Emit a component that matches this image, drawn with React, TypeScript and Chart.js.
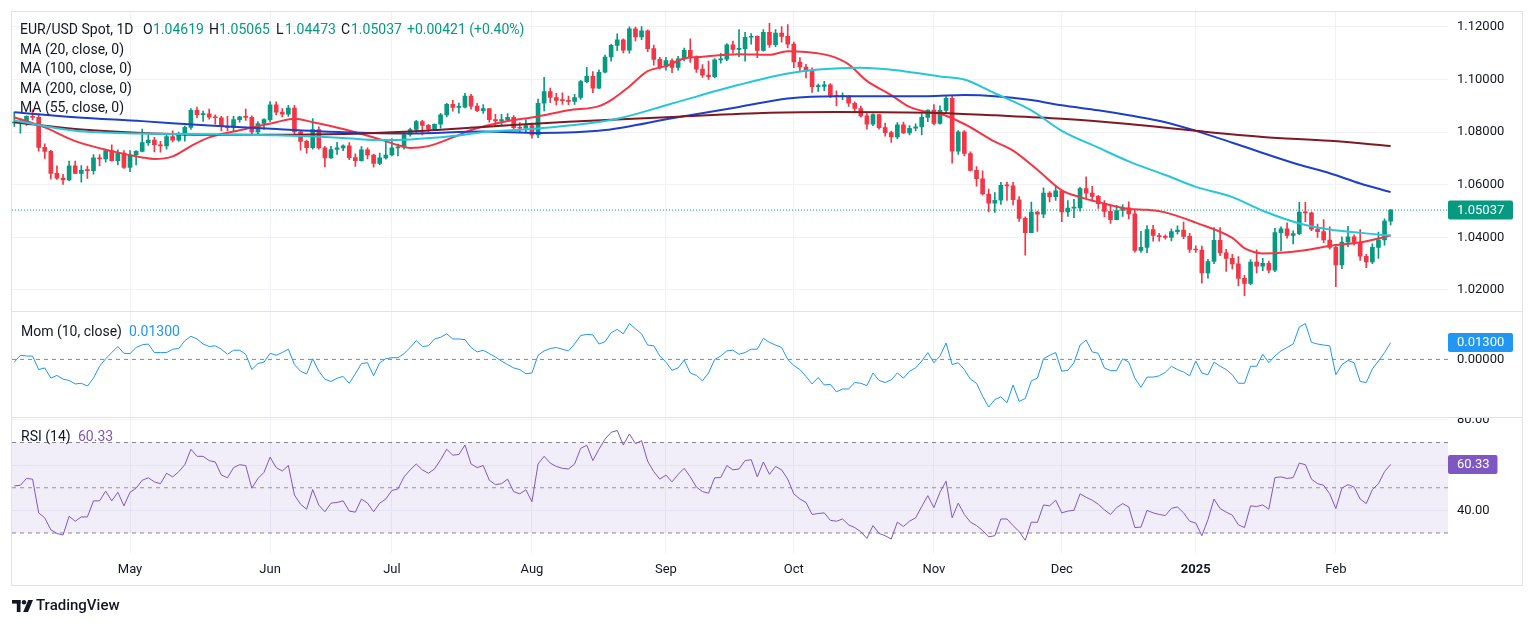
import React, { useEffect, useRef } from "react";
import { Chart, registerables } from "chart.js";

Chart.register(...registerables);

// ---------- data ----------
// bar index 0 = 4 Apr 2024 ... 226 = 14 Feb 2025
const monthTickIdx = [19, 42, 62, 85, 107, 128, 151, 172, 194, 217];
const monthTickLabels = ["May", "Jun", "Jul", "Aug", "Sep", "Oct", "Nov", "Dec", "2025", "Feb"];

const openData = [
  1.0835, 1.0837, 1.0838, 1.0860, 1.0856, 1.0742, 1.0727, 1.0643, 1.0625, 1.0618,
  1.0672, 1.0643, 1.0655, 1.0654, 1.0702, 1.0698, 1.0730, 1.0692, 1.0720, 1.0666,
  1.0714, 1.0727, 1.0760, 1.0770, 1.0752, 1.0748, 1.0783, 1.0770, 1.0790, 1.0818,
  1.0883, 1.0867, 1.0870, 1.0857, 1.0855, 1.0822, 1.0817, 1.0848, 1.0858, 1.0856,
  1.0801, 1.0833, 1.0848, 1.0904, 1.0876, 1.0868, 1.0892, 1.0801, 1.0765, 1.0741,
  1.0810, 1.0740, 1.0702, 1.0734, 1.0740, 1.0748, 1.0703, 1.0692, 1.0733, 1.0713,
  1.0681, 1.0702, 1.0713, 1.0740, 1.0743, 1.0791, 1.0810, 1.0840, 1.0826, 1.0812,
  1.0830, 1.0866, 1.0906, 1.0894, 1.0895, 1.0937, 1.0899, 1.0882, 1.0890, 1.0848,
  1.0843, 1.0848, 1.0856, 1.0817, 1.0815, 1.0825, 1.0790, 1.0910, 1.0954, 1.0932,
  1.0921, 1.0920, 1.0917, 1.0932, 1.0992, 1.1012, 1.0967, 1.1028, 1.1086, 1.1130,
  1.1151, 1.1112, 1.1193, 1.1162, 1.1185, 1.1118, 1.1077, 1.1048, 1.1072, 1.1046,
  1.1079, 1.1111, 1.1083, 1.1040, 1.1017, 1.1011, 1.1075, 1.1078, 1.1132, 1.1115,
  1.1118, 1.1161, 1.1164, 1.1111, 1.1180, 1.1133, 1.1177, 1.1164, 1.1135, 1.1067,
  1.1048, 1.1032, 1.0973, 1.0974, 1.0980, 1.0940, 1.0935, 1.0937, 1.0910, 1.0890,
  1.0862, 1.0830, 1.0867, 1.0817, 1.0798, 1.0782, 1.0828, 1.0797, 1.0815, 1.0820,
  1.0856, 1.0884, 1.0833, 1.0883, 1.0929, 1.0728, 1.0801, 1.0719, 1.0655, 1.0623,
  1.0565, 1.0530, 1.0541, 1.0598, 1.0596, 1.0543, 1.0472, 1.0418, 1.0496, 1.0488,
  1.0568, 1.0555, 1.0577, 1.0497, 1.0511, 1.0512, 1.0585, 1.0568, 1.0556, 1.0528,
  1.0499, 1.0467, 1.0502, 1.0512, 1.0489, 1.0350, 1.0362, 1.0430, 1.0407, 1.0403,
  1.0400, 1.0422, 1.0428, 1.0404, 1.0354, 1.0352, 1.0265, 1.0308, 1.0389, 1.0341,
  1.0320, 1.0299, 1.0244, 1.0225, 1.0306, 1.0290, 1.0301, 1.0275, 1.0418, 1.0432,
  1.0407, 1.0414, 1.0496, 1.0493, 1.0431, 1.0422, 1.0390, 1.0362, 1.0295, 1.0382,
  1.0402, 1.0381, 1.0328, 1.0307, 1.0362, 1.0390, 1.04619,
];

const highData = [
  1.0876, 1.0852, 1.0862, 1.0885, 1.0869, 1.0756, 1.0731, 1.0672, 1.0640, 1.0690,
  1.0690, 1.0673, 1.0671, 1.0715, 1.0715, 1.0734, 1.0752, 1.0733, 1.0730, 1.0730,
  1.0730, 1.0812, 1.0790, 1.0780, 1.0765, 1.0790, 1.0805, 1.0800, 1.0823, 1.0890,
  1.0895, 1.0880, 1.0888, 1.0866, 1.0860, 1.0860, 1.0860, 1.0860, 1.0888, 1.0862,
  1.0840, 1.0852, 1.0916, 1.0915, 1.0890, 1.0902, 1.0902, 1.0802, 1.0770, 1.0852,
  1.0820, 1.0745, 1.0746, 1.0761, 1.0752, 1.0760, 1.0718, 1.0745, 1.0740, 1.0717,
  1.0720, 1.0762, 1.0776, 1.0755, 1.0800, 1.0816, 1.0845, 1.0845, 1.0830, 1.0832,
  1.0872, 1.0910, 1.0921, 1.0911, 1.0948, 1.0944, 1.0910, 1.0905, 1.0890, 1.0868,
  1.0868, 1.0871, 1.0863, 1.0836, 1.0848, 1.0835, 1.0926, 1.1009, 1.0968, 1.0948,
  1.0950, 1.0937, 1.0944, 1.0997, 1.1047, 1.1030, 1.1037, 1.1093, 1.1134, 1.1174,
  1.1155, 1.1201, 1.1200, 1.1202, 1.1189, 1.1131, 1.1085, 1.1085, 1.1079, 1.1088,
  1.1120, 1.1155, 1.1090, 1.1057, 1.1070, 1.1080, 1.1100, 1.1137, 1.1146, 1.1190,
  1.1180, 1.1175, 1.1166, 1.1190, 1.1214, 1.1190, 1.1202, 1.1209, 1.1143, 1.1084,
  1.1058, 1.1045, 1.0983, 1.0993, 1.0985, 1.0957, 1.0950, 1.0940, 1.0915, 1.0899,
  1.0871, 1.0870, 1.0867, 1.0835, 1.0804, 1.0836, 1.0838, 1.0825, 1.0832, 1.0870,
  1.0885, 1.0905, 1.0900, 1.0937, 1.0937, 1.0806, 1.0806, 1.0725, 1.0669, 1.0653,
  1.0584, 1.0570, 1.0609, 1.0610, 1.0609, 1.0555, 1.0478, 1.0534, 1.0500, 1.0588,
  1.0574, 1.0596, 1.0577, 1.0540, 1.0545, 1.0590, 1.0630, 1.0594, 1.0560, 1.0540,
  1.0518, 1.0522, 1.0525, 1.0535, 1.0504, 1.0423, 1.0445, 1.0446, 1.0415, 1.0410,
  1.0432, 1.0444, 1.0458, 1.0415, 1.0368, 1.0367, 1.0316, 1.0437, 1.0437, 1.0354,
  1.0335, 1.0327, 1.0256, 1.0315, 1.0353, 1.0320, 1.0310, 1.0434, 1.0440, 1.0455,
  1.0425, 1.0533, 1.0533, 1.0497, 1.0450, 1.0468, 1.0440, 1.0370, 1.0402, 1.0442,
  1.0410, 1.0430, 1.0335, 1.0375, 1.0420, 1.0470, 1.05065,
];

const lowData = [
  1.0822, 1.0796, 1.0826, 1.0847, 1.0728, 1.0700, 1.0622, 1.0620, 1.0601, 1.0615,
  1.0642, 1.0610, 1.0624, 1.0640, 1.0672, 1.0686, 1.0690, 1.0675, 1.0662, 1.0650,
  1.0675, 1.0725, 1.0750, 1.0725, 1.0724, 1.0735, 1.0763, 1.0765, 1.0766, 1.0810,
  1.0854, 1.0841, 1.0849, 1.0830, 1.0805, 1.0805, 1.0805, 1.0838, 1.0845, 1.0789,
  1.0790, 1.0810, 1.0840, 1.0866, 1.0858, 1.0860, 1.0790, 1.0732, 1.0720, 1.0735,
  1.0735, 1.0668, 1.0700, 1.0715, 1.0730, 1.0695, 1.0670, 1.0690, 1.0698, 1.0667,
  1.0676, 1.0697, 1.0710, 1.0710, 1.0735, 1.0785, 1.0795, 1.0790, 1.0800, 1.0807,
  1.0815, 1.0858, 1.0880, 1.0872, 1.0892, 1.0887, 1.0878, 1.0871, 1.0838, 1.0825,
  1.0825, 1.0840, 1.0812, 1.0800, 1.0801, 1.0777, 1.0779, 1.0881, 1.0912, 1.0904,
  1.0906, 1.0905, 1.0906, 1.0925, 1.0987, 1.0950, 1.0965, 1.1025, 1.1070, 1.1110,
  1.1101, 1.1100, 1.1147, 1.1152, 1.1106, 1.1055, 1.1041, 1.1036, 1.1026, 1.1036,
  1.1071, 1.1065, 1.1027, 1.1008, 1.1001, 1.1006, 1.1062, 1.1072, 1.1100, 1.1087,
  1.1070, 1.1135, 1.1083, 1.1108, 1.1122, 1.1125, 1.1142, 1.1120, 1.1045, 1.1032,
  1.1006, 1.0951, 1.0955, 1.0958, 1.0931, 1.0900, 1.0924, 1.0898, 1.0880, 1.0858,
  1.0811, 1.0825, 1.0811, 1.0785, 1.0761, 1.0775, 1.0795, 1.0790, 1.0805, 1.0790,
  1.0840, 1.0828, 1.0830, 1.0870, 1.0682, 1.0715, 1.0710, 1.0653, 1.0595, 1.0560,
  1.0497, 1.0495, 1.0525, 1.0540, 1.0523, 1.0461, 1.0332, 1.0418, 1.0423, 1.0475,
  1.0535, 1.0540, 1.0460, 1.0480, 1.0475, 1.0500, 1.0550, 1.0538, 1.0510, 1.0478,
  1.0453, 1.0466, 1.0480, 1.0470, 1.0344, 1.0343, 1.0342, 1.0385, 1.0385, 1.0393,
  1.0386, 1.0412, 1.0395, 1.0343, 1.0343, 1.0226, 1.0245, 1.0300, 1.0330, 1.0270,
  1.0280, 1.0215, 1.0178, 1.0220, 1.0265, 1.0273, 1.0266, 1.0269, 1.0348, 1.0397,
  1.0375, 1.0410, 1.0460, 1.0425, 1.0400, 1.0380, 1.0355, 1.0212, 1.0281, 1.0365,
  1.0370, 1.0312, 1.0285, 1.0300, 1.0320, 1.0370, 1.04473,
];

const closeData = [
  1.0837, 1.0838, 1.0860, 1.0856, 1.0742, 1.0727, 1.0643, 1.0625, 1.0618, 1.0672,
  1.0643, 1.0655, 1.0654, 1.0702, 1.0698, 1.0730, 1.0692, 1.0720, 1.0666, 1.0714,
  1.0727, 1.0760, 1.0770, 1.0752, 1.0748, 1.0783, 1.0770, 1.0790, 1.0818, 1.0883,
  1.0867, 1.0870, 1.0857, 1.0855, 1.0822, 1.0817, 1.0848, 1.0858, 1.0856, 1.0801,
  1.0833, 1.0848, 1.0904, 1.0876, 1.0868, 1.0892, 1.0801, 1.0765, 1.0741, 1.0810,
  1.0740, 1.0702, 1.0734, 1.0740, 1.0748, 1.0703, 1.0692, 1.0733, 1.0713, 1.0681,
  1.0702, 1.0713, 1.0740, 1.0743, 1.0791, 1.0810, 1.0840, 1.0826, 1.0812, 1.0830,
  1.0866, 1.0906, 1.0894, 1.0895, 1.0937, 1.0899, 1.0882, 1.0890, 1.0848, 1.0843,
  1.0848, 1.0856, 1.0817, 1.0815, 1.0825, 1.0790, 1.0910, 1.0954, 1.0932, 1.0921,
  1.0920, 1.0917, 1.0932, 1.0992, 1.1012, 1.0967, 1.1028, 1.1086, 1.1130, 1.1151,
  1.1112, 1.1193, 1.1162, 1.1185, 1.1118, 1.1077, 1.1048, 1.1072, 1.1046, 1.1079,
  1.1111, 1.1083, 1.1040, 1.1017, 1.1011, 1.1075, 1.1078, 1.1132, 1.1115, 1.1118,
  1.1161, 1.1164, 1.1111, 1.1180, 1.1133, 1.1177, 1.1164, 1.1135, 1.1067, 1.1048,
  1.1032, 1.0973, 1.0974, 1.0980, 1.0940, 1.0935, 1.0937, 1.0910, 1.0890, 1.0862,
  1.0830, 1.0867, 1.0817, 1.0798, 1.0782, 1.0828, 1.0797, 1.0815, 1.0820, 1.0856,
  1.0884, 1.0833, 1.0883, 1.0929, 1.0728, 1.0801, 1.0719, 1.0655, 1.0623, 1.0565,
  1.0530, 1.0541, 1.0598, 1.0596, 1.0543, 1.0472, 1.0418, 1.0496, 1.0488, 1.0568,
  1.0555, 1.0577, 1.0497, 1.0511, 1.0512, 1.0585, 1.0568, 1.0556, 1.0528, 1.0499,
  1.0467, 1.0502, 1.0512, 1.0489, 1.0350, 1.0362, 1.0430, 1.0407, 1.0403, 1.0400,
  1.0422, 1.0428, 1.0404, 1.0354, 1.0352, 1.0265, 1.0308, 1.0389, 1.0341, 1.0320,
  1.0299, 1.0244, 1.0225, 1.0306, 1.0290, 1.0301, 1.0275, 1.0418, 1.0432, 1.0407,
  1.0414, 1.0496, 1.0493, 1.0431, 1.0422, 1.0390, 1.0362, 1.0295, 1.0382, 1.0402,
  1.0381, 1.0328, 1.0307, 1.0362, 1.0390, 1.0462, 1.05037,
];

// moving averages: [bar index, value] points
const ma20Points = [
  [0, 1.0857], [5, 1.0818], [10, 1.0766], [16, 1.0728], [21, 1.0704], [23, 1.0698], [26, 1.0708],
  [29, 1.0747], [32, 1.078], [38, 1.0812], [43, 1.0838], [46, 1.0851], [49, 1.0838], [54, 1.0812],
  [60, 1.0773], [63, 1.0751], [65, 1.074], [68, 1.0747], [72, 1.078], [75, 1.0808], [80, 1.0838],
  [86, 1.086], [91, 1.0883], [96, 1.0899], [98, 1.0922], [101, 1.0974], [104, 1.1032], [107, 1.1051],
  [110, 1.108], [113, 1.1087], [119, 1.1096], [124, 1.1094], [127, 1.1108], [130, 1.1105],
  [134, 1.109], [137, 1.1058], [140, 1.0995], [144, 1.0941], [147, 1.0896], [150, 1.0876],
  [152, 1.087], [156, 1.0831], [161, 1.0764], [164, 1.073], [168, 1.0657], [172, 1.0579],
  [175, 1.0553], [178, 1.0534], [183, 1.0508], [186, 1.0505], [189, 1.0495], [194, 1.0456],
  [200, 1.0398], [202, 1.0359], [205, 1.0339], [208, 1.0341], [213, 1.0355], [216, 1.0368],
  [221, 1.0381], [226, 1.0407],
];
const ma55Points = [
  [0, 1.0844], [10, 1.0805], [21, 1.0795], [32, 1.0792], [43, 1.0788], [54, 1.0778], [60, 1.077],
  [65, 1.0772], [72, 1.0785], [77, 1.08], [85, 1.0812], [91, 1.0825], [99, 1.0851], [108, 1.0909],
  [119, 1.098], [127, 1.1023], [132, 1.1038], [139, 1.1045], [146, 1.1032], [152, 1.1012],
  [156, 1.1], [161, 1.0948], [167, 1.0883], [172, 1.0805], [178, 1.0741], [183, 1.0689],
  [189, 1.0637], [194, 1.0592], [200, 1.0553], [205, 1.0501], [211, 1.0453], [216, 1.043],
  [221, 1.0417], [226, 1.0407],
];
const ma100Points = [
  [0, 1.0876], [10, 1.0857], [21, 1.0842], [32, 1.0825], [43, 1.0812], [54, 1.08], [65, 1.0795],
  [77, 1.0803], [86, 1.0797], [97, 1.0808], [108, 1.0853], [119, 1.0896], [127, 1.0928],
  [135, 1.0937], [143, 1.0937], [150, 1.0937], [156, 1.0941], [161, 1.0937], [167, 1.0922],
  [172, 1.0902], [178, 1.0883], [183, 1.0864], [189, 1.0838], [194, 1.0805], [200, 1.076],
  [205, 1.0721], [211, 1.0676], [216, 1.0644], [221, 1.0605], [226, 1.0572],
];
const ma200Points = [
  [0, 1.0838], [10, 1.0812], [21, 1.0797], [32, 1.079], [43, 1.079], [54, 1.0793], [65, 1.0803],
  [77, 1.082], [91, 1.084], [108, 1.0858], [124, 1.0874], [135, 1.0877], [152, 1.0873],
  [161, 1.0864], [172, 1.0851], [183, 1.0831], [194, 1.0805], [205, 1.0782], [216, 1.0767],
  [226, 1.0747],
];

const momData = [
  -0.0021, 0.0032, 0.0026, 0.0026, -0.0079, -0.0066, -0.0145, -0.0124, -0.0153, -0.0163,
  -0.019, -0.0185, -0.0206, -0.0145, -0.0053, 0.0005, 0.0053, 0.01, 0.0047, 0.0045,
  0.0092, 0.0113, 0.0119, 0.0053, 0.0053, 0.0053, 0.0079, 0.0084, 0.0145, 0.0179,
  0.0158, 0.0119, 0.01, 0.0105, 0.0079, 0.004, 0.0071, 0.0071, 0.004, -0.0079,
  -0.0032, -0.0021, 0.0047, 0.0032, 0.0053, 0.0079, -0.004, -0.0092, -0.0113, 0.0005,
  -0.0092, -0.0153, -0.0171, -0.0145, -0.0132, -0.0185, -0.0111, -0.0032, -0.0026, -0.0127,
  -0.0026, 0.0005, 0.0013, 0.0013, 0.0045, 0.0092, 0.0145, 0.01, 0.0105, 0.0158,
  0.0171, 0.0198, 0.0158, 0.0158, 0.0153, 0.0092, 0.0058, 0.0071, 0.0045, 0.0018,
  -0.0013, -0.004, -0.0066, -0.0079, -0.0111, -0.0105, 0.0032, 0.0066, 0.0084, 0.0092,
  0.0079, 0.0066, 0.0119, 0.0185, 0.0193, 0.019, 0.0119, 0.0137, 0.0206, 0.0232,
  0.0198, 0.0277, 0.0237, 0.0198, 0.0111, 0.0105, 0.0026, -0.0021, -0.0084, -0.0066,
  -0.0005, -0.0105, -0.0124, -0.0166, -0.0105, 0.0, 0.0026, 0.0066, 0.0071, 0.004,
  0.0053, 0.0079, 0.0079, 0.0163, 0.0132, 0.0111, 0.0092, 0.0, -0.0047, -0.0079,
  -0.0132, -0.019, -0.014, -0.0198, -0.0193, -0.0251, -0.0229, -0.0229, -0.0179, -0.0185,
  -0.0203, -0.0105, -0.0163, -0.0179, -0.0158, -0.0105, -0.0145, -0.0092, -0.0066, -0.0013,
  0.0053, -0.0026, 0.0026, 0.0127, -0.004, -0.0026, -0.0079, -0.0153, -0.0185, -0.0285,
  -0.0369, -0.0311, -0.029, -0.0335, -0.0198, -0.0325, -0.0303, -0.0166, -0.0145, 0.0005,
  0.0032, 0.0053, -0.0092, -0.0084, -0.0026, 0.0111, 0.015, 0.0058, 0.0047, -0.0066,
  -0.0087, -0.0087, 0.0005, -0.0021, -0.0145, -0.0216, -0.0137, -0.0137, -0.0127, -0.01,
  -0.0053, -0.0079, -0.0098, -0.0127, -0.0013, -0.0105, -0.0119, -0.0021, -0.0053, -0.0079,
  -0.0119, -0.0185, -0.0185, -0.0053, -0.0053, 0.004, -0.0026, 0.0026, 0.0066, 0.0092,
  0.0119, 0.0251, 0.0277, 0.0132, 0.0119, 0.0111, 0.0105, -0.0119, -0.004, -0.0008,
  -0.0026, -0.0171, -0.0179, -0.0074, -0.0013, 0.0053, 0.013,
];

const rsiData = [
  50.8, 51.1, 54.1, 53.8, 38.9, 36.7, 31.4, 29.8, 29.1, 37.4,
  35.2, 37.1, 37.1, 44.2, 44.2, 48.5, 44.2, 48.0, 42.0, 48.0,
  49.8, 53.3, 54.4, 52.6, 51.8, 56.4, 54.8, 57.1, 60.2, 67.0,
  63.9, 63.9, 62.0, 61.4, 55.6, 54.4, 58.9, 60.2, 59.8, 49.8,
  54.1, 56.8, 63.5, 58.9, 57.4, 59.8, 46.8, 42.7, 40.5, 49.2,
  42.3, 39.4, 43.2, 43.5, 44.2, 39.7, 39.2, 45.0, 43.2, 39.4,
  43.2, 45.0, 48.8, 49.5, 54.8, 57.9, 60.5, 57.9, 56.4, 58.3,
  62.4, 67.0, 64.4, 64.7, 68.9, 60.5, 58.9, 59.8, 53.3, 51.4,
  51.8, 53.8, 48.3, 47.3, 49.1, 43.8, 60.5, 63.9, 60.9, 59.4,
  58.6, 58.3, 60.5, 67.4, 68.8, 62.0, 67.0, 71.5, 74.5, 75.3,
  68.9, 73.8, 69.5, 70.8, 61.7, 57.1, 53.8, 55.6, 52.6, 55.9,
  58.6, 54.8, 50.3, 48.3, 47.6, 54.4, 54.5, 59.8, 57.9, 58.3,
  62.0, 62.4, 54.8, 61.4, 55.9, 59.4, 57.9, 53.8, 47.3, 45.0,
  43.5, 38.2, 38.6, 38.9, 35.6, 35.2, 36.2, 33.6, 32.4, 30.6,
  27.6, 33.3, 29.8, 28.8, 27.3, 34.8, 32.9, 35.2, 36.7, 41.7,
  46.5, 41.2, 48.0, 52.9, 36.7, 43.2, 38.2, 34.8, 33.3, 31.1,
  28.3, 28.8, 36.2, 36.2, 33.3, 30.6, 26.8, 34.8, 34.7, 42.4,
  42.0, 44.5, 38.9, 39.7, 40.0, 47.3, 45.8, 44.5, 42.7, 40.2,
  38.2, 41.2, 43.0, 41.5, 32.4, 32.6, 40.0, 38.9, 38.2, 37.7,
  40.9, 41.5, 38.9, 35.2, 34.4, 28.8, 35.9, 45.0, 40.8, 39.2,
  37.9, 33.6, 32.4, 42.0, 41.7, 42.4, 40.5, 54.5, 54.8, 54.1,
  54.5, 60.9, 60.2, 53.8, 51.8, 51.1, 47.3, 40.8, 49.8, 51.4,
  50.3, 45.0, 43.0, 49.2, 51.8, 57.1, 60.33,
];

const priceTicks = [1.02, 1.04, 1.06, 1.08, 1.1, 1.12];
const momTicks = [0];
const rsiTicks = [40, 60, 80];
const rsiLevels = [70, 50, 30];
const lastPrice = 1.05037;
const lastMom = 0.013;
const lastRsi = 60.33;

// ---------- styling ----------
const UP = "#089981";
const DOWN = "#f23645";
const TEXT = "#131722";
const GRID = "#f0f2f6";
const FRAME = "#e0e3eb";
const FONT = "Roboto, 'Noto Sans', sans-serif";
const X_MIN = -0.38;
const X_MAX = 235.42;

export default function App() {
  const ref = useRef<HTMLCanvasElement | null>(null);

  useEffect(() => {
    const canvas = ref.current;
    if (!canvas) return;
    const barColors = closeData.map((c, i) => (c >= openData[i] ? UP : DOWN));
    const hline = (v: number) => [
      { x: X_MIN, y: v },
      { x: X_MAX, y: v },
    ];
    const pts = (arr: number[][]) => arr.map(([x, y]) => ({ x, y }));
    const dash = [4, 4];

    const overlay = {
      id: "overlay",
      afterDraw(chart: any) {
        const ctx = chart.ctx as CanvasRenderingContext2D;
        const area = chart.chartArea;
        const ys = chart.scales.y;
        const ym = chart.scales.yMom;
        const yr = chart.scales.yRsi;
        ctx.save();

        // clip the RSI "80.00" label at the pane top
        ctx.fillStyle = "#ffffff";
        ctx.fillRect(area.right + 1, ym.bottom - 14, 1522 - area.right - 1, 14);

        // frame & pane separators
        ctx.strokeStyle = FRAME;
        ctx.lineWidth = 1;
        const hl = (y: number, x0: number, x1: number) => {
          ctx.beginPath();
          ctx.moveTo(x0, Math.round(y) + 0.5);
          ctx.lineTo(x1, Math.round(y) + 0.5);
          ctx.stroke();
        };
        const vl = (x: number, y0: number, y1: number) => {
          ctx.beginPath();
          ctx.moveTo(Math.round(x) + 0.5, y0);
          ctx.lineTo(Math.round(x) + 0.5, y1);
          ctx.stroke();
        };
        hl(area.top - 1, area.left - 1, 1523);
        hl(ym.top - 0.5, area.left - 1, 1523);
        hl(yr.top - 0.5, area.left - 1, 1523);
        hl(585, area.left - 1, 1523);
        vl(area.left - 1, area.top - 1, 585.5);
        vl(1522, area.top - 1, 585.5);

        const txt = (s: string, x: number, y: number, color: string, font = `14px ${FONT}`) => {
          ctx.font = font;
          ctx.fillStyle = color;
          ctx.textAlign = "left";
          ctx.textBaseline = "middle";
          ctx.fillText(s, x, y);
        };

        // legend
        const r1 = 30.5;
        txt("EUR/USD Spot, 1D", 20, r1, TEXT);
        txt("O", 143, r1, TEXT);
        txt("1.04619", 153, r1, UP);
        txt("H", 209, r1, TEXT);
        txt("1.05065", 219, r1, UP);
        txt("L", 276, r1, TEXT);
        txt("1.04473", 285, r1, UP);
        txt("C", 341, r1, TEXT);
        txt("1.05037", 351, r1, UP);
        txt("+0.00421 (+0.40%)", 407, r1, UP);
        txt("MA (20, close, 0)", 20, 50, TEXT);
        txt("MA (100, close, 0)", 20, 69.5, TEXT);
        txt("MA (200, close, 0)", 20, 89, TEXT);
        txt("MA (55, close, 0)", 20, 108.5, TEXT);
        txt("Mom (10, close)", 21, 332, TEXT);
        txt("0.01300", 129, 332, "#2196f3");
        txt("RSI (14)", 21, 437, TEXT);
        txt("60.33", 78, 437, "#7e57c2");

        // value boxes on the price axis
        const box = (scale: any, v: number, label: string, color: string, w: number) => {
          const cy = scale.getPixelForValue(v);
          ctx.fillStyle = color;
          ctx.beginPath();
          (ctx as any).roundRect(area.right, cy - 9.5, w, 19, 2);
          ctx.fill();
          txt(label, area.right + 9, cy + 0.5, "#ffffff", `13px ${FONT}`);
        };
        box(ys, lastPrice, "1.05037", UP, 65);
        box(ym, lastMom, "0.01300", "#2196f3", 65);
        box(yr, lastRsi, "60.33", "#7e57c2", 49.5);

        // TradingView logo
        const lx = 12;
        const ly = 600;
        ctx.fillStyle = TEXT;
        ctx.fillRect(lx, ly, 8.5, 3.6);
        ctx.fillRect(lx + 4.8, ly, 3.7, 12);
        ctx.beginPath();
        ctx.arc(lx + 12, ly + 2.2, 2.2, 0, Math.PI * 2);
        ctx.fill();
        ctx.beginPath();
        ctx.moveTo(lx + 16.2, ly);
        ctx.lineTo(lx + 21, ly);
        ctx.lineTo(lx + 16, ly + 12);
        ctx.lineTo(lx + 11.2, ly + 12);
        ctx.closePath();
        ctx.fill();
        txt("TradingView", lx + 24, ly + 6.5, TEXT, `500 15px ${FONT}`);

        ctx.restore();
      },
    };

    const lineBase = {
      type: "line" as const,
      pointRadius: 0,
      pointHoverRadius: 0,
      fill: false,
    };

    const chart = new Chart(canvas, {
      type: "line",
      data: {
        datasets: [
          // RSI band (70..30) and level lines
          {
            ...lineBase,
            yAxisID: "yRsi",
            data: hline(rsiLevels[0]),
            borderColor: "rgba(120,123,134,0.9)",
            borderWidth: 1,
            borderDash: dash,
            fill: { value: rsiLevels[2] },
            backgroundColor: "rgba(126,87,194,0.1)",
            order: 30,
          },
          {
            ...lineBase,
            yAxisID: "yRsi",
            data: hline(rsiLevels[1]),
            borderColor: "rgba(120,123,134,0.8)",
            borderWidth: 1,
            borderDash: dash,
            order: 29,
          },
          {
            ...lineBase,
            yAxisID: "yRsi",
            data: hline(rsiLevels[2]),
            borderColor: "rgba(120,123,134,0.9)",
            borderWidth: 1,
            borderDash: dash,
            order: 29,
          },
          {
            ...lineBase,
            yAxisID: "yMom",
            data: hline(0),
            borderColor: "rgba(120,123,134,0.9)",
            borderWidth: 1,
            borderDash: dash,
            order: 29,
          },
          {
            ...lineBase,
            yAxisID: "y",
            data: hline(lastPrice),
            borderColor: UP,
            borderWidth: 1,
            borderDash: [1, 2],
            order: 28,
          },
          // candles: wicks + bodies
          {
            type: "bar",
            yAxisID: "y",
            data: closeData.map((_, i) => ({ x: i, y: [lowData[i], highData[i]] })),
            backgroundColor: barColors,
            barThickness: 1,
            grouped: false,
            borderWidth: 0,
            order: 20,
          } as any,
          {
            type: "bar",
            yAxisID: "y",
            data: closeData.map((c, i) => ({ x: i, y: [openData[i], c] })),
            backgroundColor: barColors,
            barThickness: 4,
            minBarLength: 1,
            grouped: false,
            borderWidth: 0,
            order: 19,
          } as any,
          // moving averages
          { ...lineBase, yAxisID: "y", data: pts(ma20Points), borderColor: "#f23645", borderWidth: 2, cubicInterpolationMode: "monotone", order: 5 },
          { ...lineBase, yAxisID: "y", data: pts(ma100Points), borderColor: "#1e40c8", borderWidth: 2, cubicInterpolationMode: "monotone", order: 4 },
          { ...lineBase, yAxisID: "y", data: pts(ma200Points), borderColor: "#7f1a22", borderWidth: 2, cubicInterpolationMode: "monotone", order: 3 },
          { ...lineBase, yAxisID: "y", data: pts(ma55Points), borderColor: "#26c6da", borderWidth: 2, cubicInterpolationMode: "monotone", order: 2 },
          // momentum & RSI
          { ...lineBase, yAxisID: "yMom", data: momData.map((v, i) => ({ x: i, y: v })), borderColor: "#2196f3", borderWidth: 1, order: 1 },
          { ...lineBase, yAxisID: "yRsi", data: rsiData.map((v, i) => ({ x: i, y: v })), borderColor: "#7e57c2", borderWidth: 1, order: 1 },
        ] as any,
      },
      options: {
        animation: false,
        responsive: false,
        events: [],
        layout: { padding: { left: 12, right: 14, top: 12, bottom: 41 } },
        plugins: { legend: { display: false }, tooltip: { enabled: false } },
        scales: {
          x: {
            type: "linear",
            min: X_MIN,
            max: X_MAX,
            offset: false,
            afterBuildTicks: (s: any) => {
              s.ticks = monthTickIdx.map((v) => ({ value: v }));
            },
            afterFit: (s: any) => {
              s.height = 32;
            },
            grid: { color: GRID, drawTicks: false, offset: false },
            border: { display: false },
            ticks: {
              autoSkip: false,
              maxRotation: 0,
              padding: 9,
              color: TEXT,
              font: (c: any) => ({
                family: FONT,
                size: 13,
                weight: c.tick && c.tick.label === "2025" ? "bold" : "normal",
              }),
              callback: (v: any) => {
                const k = monthTickIdx.indexOf(Number(v));
                return k >= 0 ? monthTickLabels[k] : "";
              },
            },
          },
          y: {
            type: "linear",
            position: "right",
            stack: "panes",
            stackWeight: 299.5,
            min: 1.0118,
            max: 1.1257,
            afterBuildTicks: (s: any) => {
              s.ticks = priceTicks.map((v) => ({ value: v }));
            },
            afterFit: (s: any) => {
              s.width = 74;
            },
            grid: { color: GRID, drawTicks: true, tickLength: 9, tickColor: "rgba(0,0,0,0)" },
            border: { display: false },
            ticks: { padding: 0, color: TEXT, font: { family: FONT, size: 13 }, callback: (v: any) => Number(v).toFixed(5) },
          },
          yMom: {
            type: "linear",
            position: "right",
            stack: "panes",
            stackWeight: 105.5,
            min: -0.04458,
            max: 0.03707,
            afterBuildTicks: (s: any) => {
              s.ticks = momTicks.map((v) => ({ value: v }));
            },
            afterFit: (s: any) => {
              s.width = 74;
            },
            grid: { display: true, color: "rgba(0,0,0,0)", drawTicks: true, tickLength: 9, tickColor: "rgba(0,0,0,0)" },
            border: { display: false },
            ticks: { padding: 0, color: TEXT, font: { family: FONT, size: 13 }, callback: (v: any) => Number(v).toFixed(5) },
          },
          yRsi: {
            type: "linear",
            position: "right",
            stack: "panes",
            stackWeight: 136,
            min: 21.16,
            max: 81.27,
            afterBuildTicks: (s: any) => {
              s.ticks = rsiTicks.map((v) => ({ value: v }));
            },
            afterFit: (s: any) => {
              s.width = 74;
            },
            grid: { color: GRID, drawTicks: true, tickLength: 9, tickColor: "rgba(0,0,0,0)" },
            border: { display: false },
            ticks: { padding: 0, color: TEXT, font: { family: FONT, size: 13 }, callback: (v: any) => Number(v).toFixed(2) },
          },
        },
      } as any,
      plugins: [overlay],
    });

    return () => chart.destroy();
  }, []);

  return (
    <div style={{ position: "fixed", left: 0, top: 0, width: 1536, height: 626, background: "#ffffff" }}>
      <canvas ref={ref} width={1536} height={626} style={{ display: "block", width: "1536px", height: "626px" }} />
    </div>
  );
}
